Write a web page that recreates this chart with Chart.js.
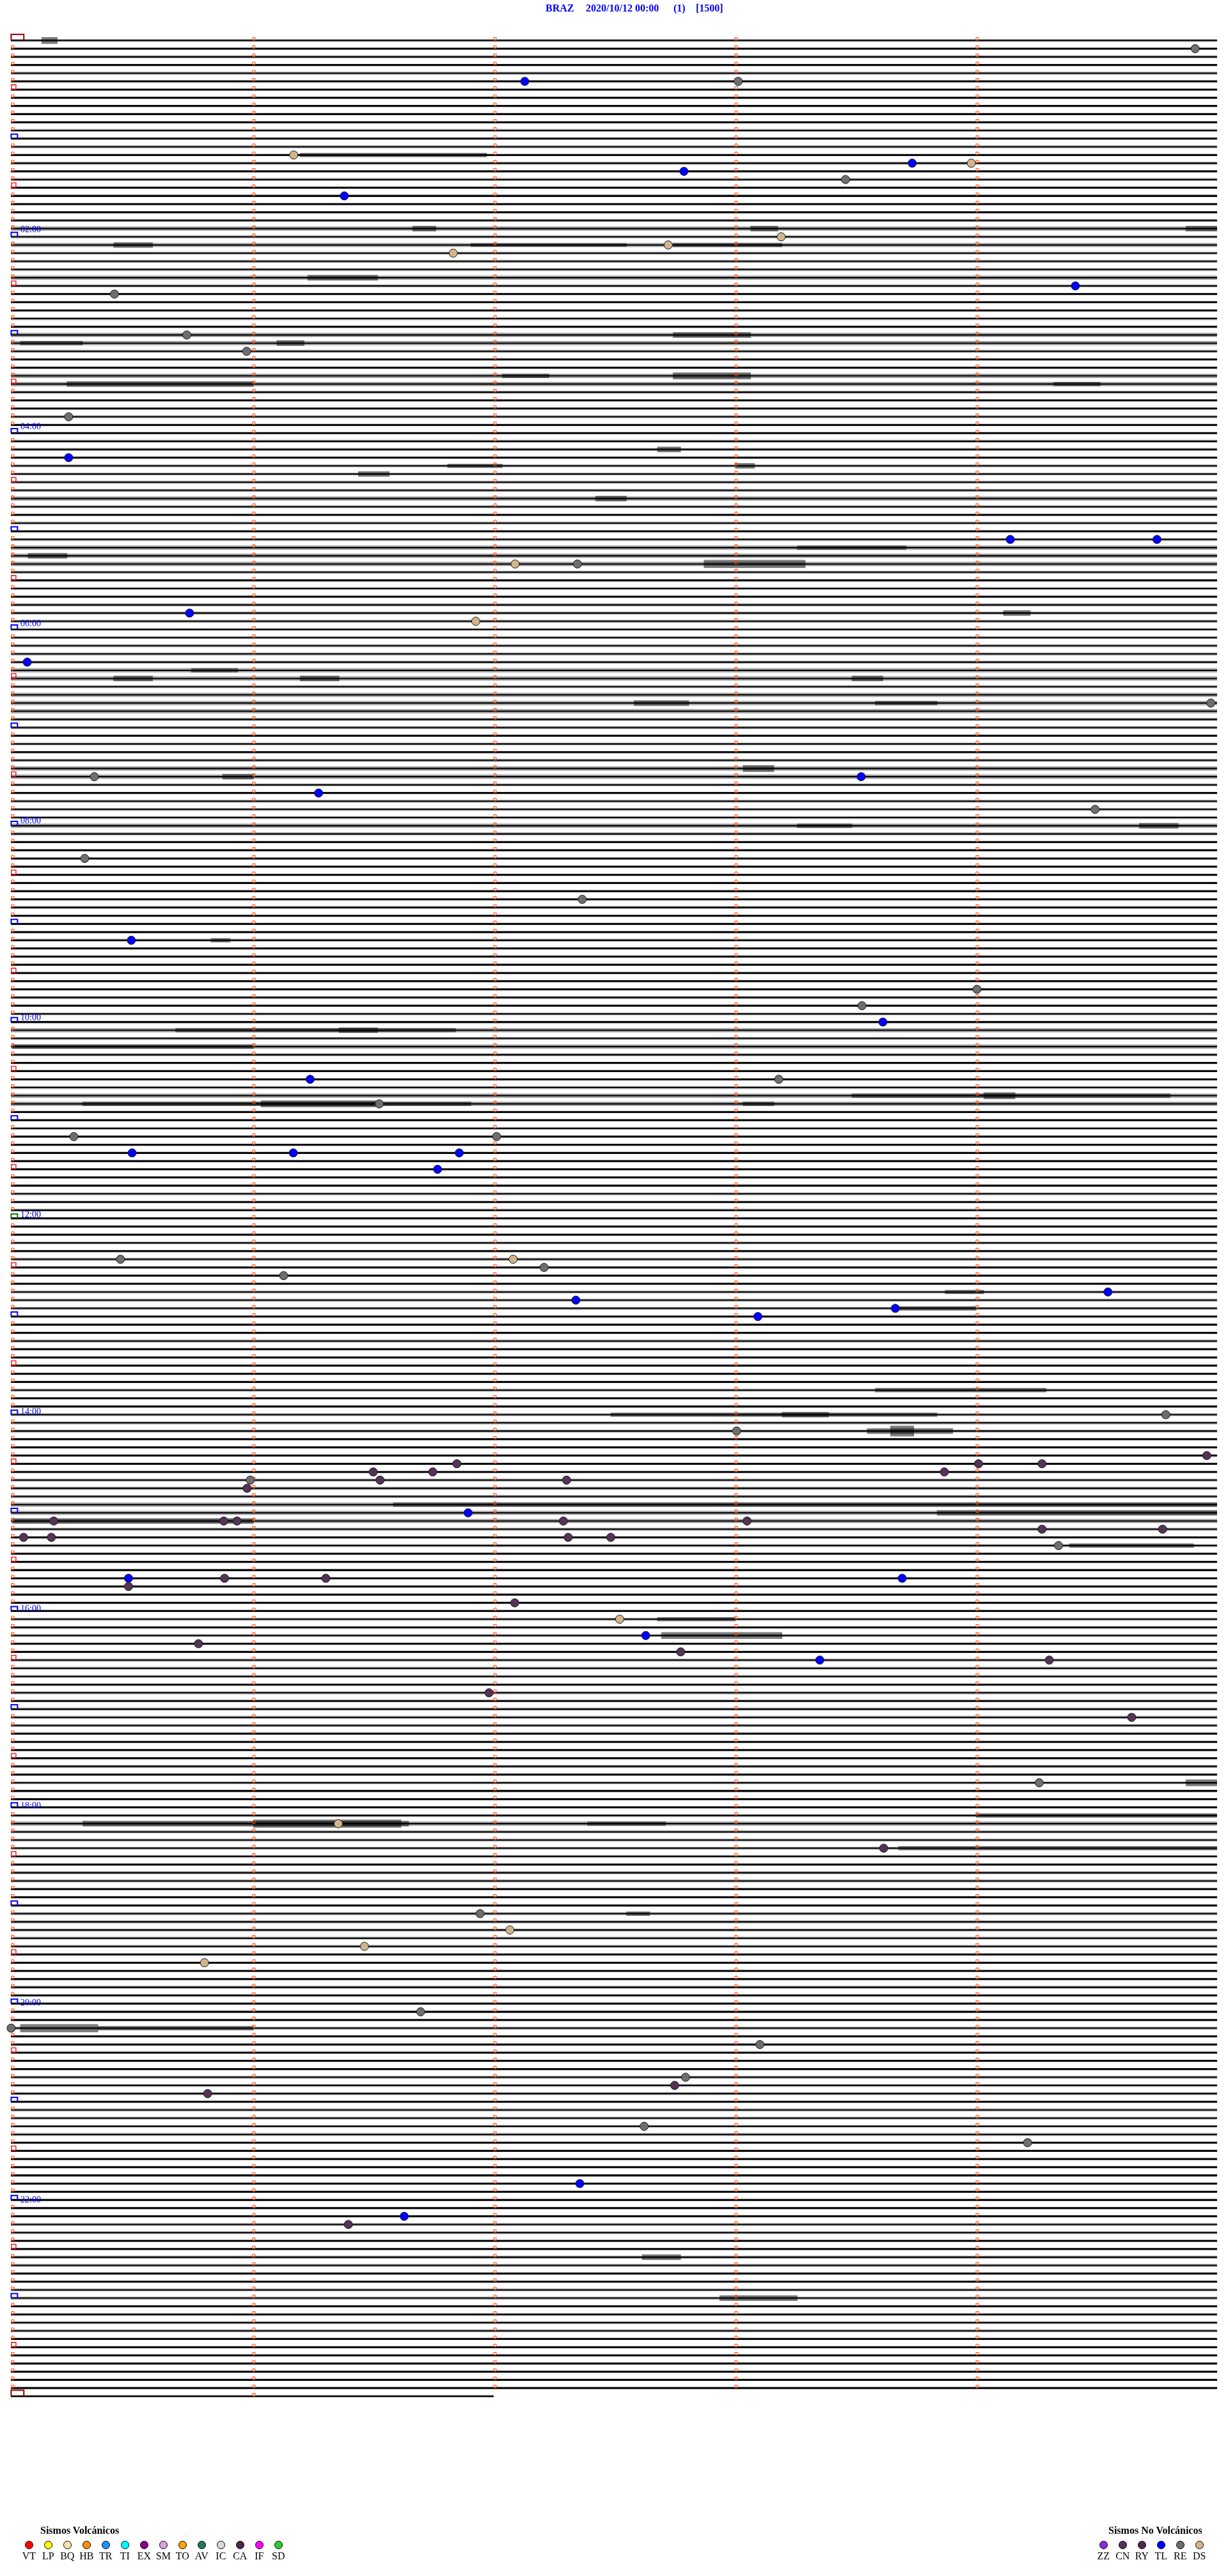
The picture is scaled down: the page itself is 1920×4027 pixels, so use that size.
<!DOCTYPE html>
<html>
<head>
<meta charset="utf-8">
<script src="https://cdn.jsdelivr.net/npm/chart.js@4.4.1/dist/chart.umd.min.js"></script>
<style>
  html, body { margin: 0; padding: 0; background: #fff; }
  #wrap { position: relative; width: 1920px; height: 4027px; overflow: hidden; background: #fff; }
  #heli { position: absolute; left: 0; top: 0; }
  .t { position: absolute; white-space: pre; font-family: "Liberation Serif", "Times New Roman", serif; line-height: 1; }
  .title { color: #0000ff; font-weight: bold; font-size: 16px; }
  .hour { color: #0000ff; font-size: 14px; }
  .lgTitle { color: #000; font-weight: bold; font-size: 16px; }
  .lgLab { color: #000; font-size: 16px; }
  .dot { position: absolute; width: 13px; height: 13px; border-radius: 50%; border: 1px solid #000; box-sizing: border-box; }
</style>
</head>
<body>
<div id="wrap">
  <canvas id="heli" width="1920" height="4027"></canvas>
</div>
<script>
// Helicorder BRAZ 2020/10/12 — 5 minutes per line, 289 lines (last one only 2 min)
var ROWS = 289;
var ROW_SECONDS = 300;
var LAST_ROW_SECONDS = 120;
var minuteTicks = [0, 60, 120, 180, 240];
var hourLabels = ['02:00', '04:00', '06:00', '08:00', '10:00', '12:00',
                  '14:00', '16:00', '18:00', '20:00', '22:00'];

// background noise level of every line (1 quiet .. 3 noisy), one string per hour
var rowNoise = [
  '212121111112', '121212111123', '232223211121', '332113321121',
  '122122223212', '123332121222', '222223323332', '212123321222',
  '321111111111', '112111111212', '132321112331', '121111111212',
  '111212111222', '111211111211', '222111112223', '332121111111',
  '121211222121', '222111121211', '123222212211', '122222111121',
  '111211111222', '122221111111', '111221122112', '212221111111',
  '2'
];

// signal bursts: [line, start s, end s, half amplitude px]
var bursts = [
  [0, 7.6, 11.5, 5], [14, 71.9, 118.3, 3],
  [23, 99.9, 105.7, 4], [23, 184.0, 190.8, 4], [23, 292.3, 300, 4],
  [25, 25.5, 35.2, 4], [25, 114.4, 153.1, 2.5], [25, 164.7, 191.8, 3],
  [29, 73.8, 91.2, 4], [36, 164.7, 184.0, 4],
  [37, 2.3, 17.8, 3], [37, 66.1, 72.9, 4],
  [41, 122.2, 133.8, 3], [41, 164.7, 184.0, 5],
  [42, 13.9, 60.3, 4], [42, 259.4, 271.0, 3],
  [50, 160.8, 166.6, 4], [52, 108.6, 122.2, 3], [52, 180.2, 185.0, 4],
  [53, 86.4, 94.1, 4], [56, 145.4, 153.1, 4], [62, 195.6, 222.7, 3],
  [63, 4.2, 13.9, 4], [64, 172.4, 197.6, 6], [70, 246.9, 253.6, 4],
  [77, 44.8, 56.4, 3], [78, 25.5, 35.2, 4], [78, 71.9, 81.6, 4], [78, 209.2, 216.9, 4],
  [81, 155.0, 168.6, 4], [81, 215.0, 230.4, 3], [89, 182.1, 189.8, 5],
  [90, 52.6, 60.3, 4], [96, 195.6, 209.2, 3], [96, 280.7, 290.4, 4],
  [110, 49.7, 54.5, 3], [121, 40.9, 110.6, 3], [121, 81.6, 91.2, 4],
  [123, 0.4, 60.3, 3], [129, 209.2, 288.4, 3], [129, 242.0, 249.8, 5],
  [130, 17.8, 114.4, 3], [130, 62.2, 91.2, 5], [130, 182.1, 189.8, 3],
  [153, 232.4, 242.0, 3], [155, 220.8, 240.1, 3], [165, 215.0, 257.5, 3],
  [168, 149.2, 230.4, 3], [168, 191.8, 203.4, 4],
  [170, 213.0, 234.3, 4], [170, 218.8, 224.6, 8],
  [179, 95.1, 300, 3], [180, 230.4, 300, 4], [181, 0.4, 60.3, 4],
  [184, 263.3, 294.2, 3], [193, 160.8, 180.2, 3], [195, 161.8, 191.8, 5],
  [213, 292.3, 300, 5], [217, 240.1, 300, 3],
  [218, 17.8, 98.9, 4], [218, 60.3, 97.0, 6], [218, 143.4, 162.8, 3],
  [221, 220.8, 300, 3], [229, 153.1, 158.9, 3],
  [243, 2.3, 21.6, 6], [243, 21.6, 60.3, 3],
  [271, 157.0, 166.6, 4], [276, 176.3, 195.6, 4]
];

// classified events: [line, second, type]
var events = [
  [1, 294.6, 'RE'], [5, 127.8, 'TL'], [5, 180.9, 'RE'], [14, 70.3, 'DS'], [15, 224.2, 'TL'],
  [15, 238.9, 'DS'], [16, 167.4, 'TL'], [17, 207.6, 'RE'], [19, 82.9, 'TL'], [24, 191.6, 'DS'],
  [25, 163.5, 'DS'], [26, 110.0, 'DS'], [30, 264.8, 'TL'], [31, 25.7, 'RE'], [36, 43.7, 'RE'],
  [38, 58.6, 'RE'],
  [46, 14.3, 'RE'], [51, 14.3, 'TL'], [61, 248.6, 'TL'], [61, 285.1, 'TL'], [64, 125.4, 'DS'],
  [64, 140.9, 'RE'], [70, 44.4, 'TL'], [71, 115.6, 'DS'],
  [76, 4.0, 'TL'], [81, 298.5, 'RE'], [90, 20.7, 'RE'], [90, 211.5, 'TL'], [92, 76.5, 'TL'],
  [94, 269.7, 'RE'], [100, 18.3, 'RE'], [105, 142.1, 'RE'], [110, 29.9, 'TL'], [116, 240.3, 'RE'],
  [118, 211.7, 'RE'], [120, 216.9, 'TL'], [127, 74.4, 'TL'], [127, 191.0, 'RE'], [130, 91.6, 'RE'],
  [134, 15.6, 'RE'], [134, 120.8, 'RE'], [136, 30.1, 'TL'], [136, 70.2, 'TL'], [136, 111.5, 'TL'],
  [138, 106.1, 'TL'],
  [149, 27.2, 'RE'], [149, 124.9, 'DS'], [150, 132.6, 'RE'], [151, 67.8, 'RE'], [153, 272.9, 'TL'],
  [154, 140.5, 'TL'], [155, 220.0, 'TL'], [156, 185.8, 'TL'], [168, 287.3, 'RE'], [170, 180.5, 'RE'],
  [173, 297.5, 'CN'], [174, 110.9, 'CN'], [174, 240.7, 'CN'], [174, 256.5, 'CN'], [175, 90.1, 'CN'],
  [175, 104.9, 'CN'], [175, 232.2, 'CN'], [176, 59.5, 'RE'], [176, 91.8, 'CN'], [176, 138.2, 'CN'],
  [177, 58.7, 'CN'], [180, 113.7, 'TL'], [181, 10.6, 'CN'], [181, 52.9, 'CN'], [181, 56.2, 'CN'],
  [181, 137.4, 'CN'], [181, 183.1, 'CN'], [182, 256.5, 'CN'], [182, 286.5, 'CN'], [183, 3.1, 'CN'],
  [183, 10.0, 'CN'], [183, 138.6, 'CN'], [183, 149.2, 'CN'], [184, 260.6, 'RE'], [188, 29.2, 'TL'],
  [188, 53.1, 'CN'], [188, 78.3, 'CN'], [188, 221.7, 'TL'], [189, 29.2, 'CN'], [191, 125.3, 'CN'],
  [193, 151.4, 'DS'], [195, 157.9, 'TL'], [196, 46.6, 'CN'], [197, 166.6, 'CN'], [198, 201.2, 'TL'],
  [198, 258.3, 'CN'], [202, 118.9, 'CN'], [205, 278.8, 'CN'], [213, 255.8, 'RE'], [218, 81.4, 'DS'],
  [221, 217.1, 'CN'],
  [229, 116.7, 'RE'], [231, 124.1, 'DS'], [233, 87.9, 'DS'], [235, 48.1, 'DS'], [241, 101.9, 'RE'],
  [243, 0.0, 'RE'], [245, 186.3, 'RE'], [249, 167.8, 'RE'], [250, 165.1, 'CN'], [251, 48.9, 'CN'],
  [255, 157.5, 'RE'], [257, 252.9, 'RE'], [262, 141.5, 'TL'], [266, 97.8, 'TL'], [267, 83.9, 'CN']
];

var volcCodes  = ['VT', 'LP', 'BQ', 'HB', 'TR', 'TI', 'EX', 'SM', 'TO', 'AV', 'IC', 'CA', 'IF', 'SD'];
var volcColors = ['#ff0000', '#ffff00', '#eee8aa', '#ff8c00', '#1e90ff', '#00ffff', '#8b008b',
                  '#dda0dd', '#ffa500', '#1f7a5a', '#d8d8d8', '#4b2848', '#ff00ff', '#32cd32'];
var otherCodes  = ['ZZ', 'CN', 'RY', 'TL', 'RE', 'DS'];
var otherColors = ['#8a2be2', '#553355', '#4f2a4f', '#0000ff', '#6e6e6e', '#d2b48c'];

// ---- page geometry ----
var W = 1920, H = 4027;
var TOP = 56, PITCH = 12.835;          // y of first line, line spacing
var X0 = 10, PX_PER_SEC = 380 / 60;    // x of second 0, 1 minute = 380 px
function sx(px) { return px / PX_PER_SEC; }
function ry(px) { return px / PITCH; }
function rowDur(r) { return r === ROWS - 1 ? LAST_ROW_SECONDS : ROW_SECONDS; }

var typeColor = {};
otherCodes.forEach(function (c, i) { typeColor[c] = otherColors[i]; });

// noise bands grouped by level
var levelStyle = {
  1: { thick: 2.6, color: 'rgba(0,0,0,0.85)' },
  2: { thick: 4,   color: 'rgba(0,0,0,0.32)' },
  3: { thick: 6,   color: 'rgba(0,0,0,0.36)' }
};
var bandData = { 1: [], 2: [], 3: [] };
var baseData = [];
var noise = rowNoise.join('');
for (var r = 0; r < ROWS; r++) {
  var lv = +noise.charAt(r) || 1;
  bandData[lv].push({ y: r, x: [0, rowDur(r)] });
  baseData.push({ y: r, x: [0, rowDur(r)] });
}

var datasets = [];
[1, 2, 3].forEach(function (lv) {
  datasets.push({
    type: 'bar', indexAxis: 'y', data: bandData[lv], grouped: false,
    barThickness: levelStyle[lv].thick, backgroundColor: levelStyle[lv].color,
    borderWidth: 0, order: 6
  });
});
datasets.push({
  type: 'bar', indexAxis: 'y', data: baseData, grouped: false,
  barThickness: 1.4, backgroundColor: '#000', borderWidth: 0, order: 5
});

// bursts grouped by amplitude
var ampGroups = {};
bursts.forEach(function (b) {
  (ampGroups[b[3]] = ampGroups[b[3]] || []).push({ y: b[0], x: [b[1], b[2]] });
});
Object.keys(ampGroups).forEach(function (a) {
  datasets.push({
    type: 'bar', indexAxis: 'y', data: ampGroups[a], grouped: false,
    barThickness: 2 * a, backgroundColor: 'rgba(0,0,0,0.5)', borderWidth: 0, order: 4
  });
});

// line start / minute markers
var smallSq = [], bigSq = [];
var brackets = { blue: [], green: [], red: [] };
for (var r2 = 0; r2 < ROWS; r2++) {
  minuteTicks.forEach(function (m) {
    if (m >= rowDur(r2)) return;
    if (m === 0 && r2 % 12 === 0) {
      var key = (r2 === 0 || r2 === ROWS - 1) ? 'red' : (r2 === 144 ? 'green' : 'blue');
      var w = key === 'red' ? 20 : 10, h = key === 'red' ? 9.5 : 7;
      brackets[key].push({ x: 0, y: r2 }, { x: 0, y: r2 - ry(h) },
                         { x: sx(w), y: r2 - ry(h) }, { x: sx(w), y: r2 }, { x: 0, y: null });
    } else if (m === 0 && r2 % 6 === 0) {
      bigSq.push({ x: sx(4), y: r2 - ry(4) });
    } else {
      smallSq.push({ x: m + sx(2.5), y: r2 - ry(2.5) });
    }
  });
}
datasets.push({
  type: 'scatter', data: smallSq, pointStyle: 'rect', pointRadius: 2.9,
  pointBorderColor: '#ff4500', pointBackgroundColor: 'rgba(0,0,0,0)', pointBorderWidth: 1, order: 3
});
datasets.push({
  type: 'scatter', data: bigSq, pointStyle: 'rect', pointRadius: 5,
  pointBorderColor: '#ff0000', pointBackgroundColor: 'rgba(0,0,0,0)', pointBorderWidth: 1.3, order: 3
});
[['blue', '#0000ff'], ['green', '#008000'], ['red', '#8b0000']].forEach(function (p) {
  datasets.push({
    type: 'line', data: brackets[p[0]], borderColor: p[1], borderWidth: 2,
    pointRadius: 0, spanGaps: false, fill: false, tension: 0, order: 2
  });
});

// event circles
datasets.push({
  type: 'scatter',
  data: events.map(function (e) { return { x: e[1], y: e[0] }; }),
  pointStyle: 'circle', pointRadius: 6.5, pointBorderWidth: 1, pointBorderColor: '#1a1a1a',
  pointBackgroundColor: events.map(function (e) { return typeColor[e[2]]; }),
  order: 0
});

new Chart(document.getElementById('heli'), {
  type: 'line',
  data: { datasets: datasets },
  options: {
    responsive: false, animation: false, events: [],
    layout: { padding: 0 },
    plugins: { legend: { display: false }, tooltip: { enabled: false }, title: { display: false } },
    elements: { point: { hitRadius: 0 } },
    clip: false,
    scales: {
      x: { type: 'linear', display: false, offset: false, min: -sx(X0), max: sx(W - X0) },
      y: { type: 'linear', display: false, offset: false, reverse: true,
           min: -ry(TOP), max: ry(H - TOP) }
    }
  }
});

// ---- text: title, hour labels, legends ----
var wrap = document.getElementById('wrap');
function txt(cls, s, left, top) {
  var d = document.createElement('div');
  d.className = 't ' + cls; d.textContent = s;
  d.style.left = left + 'px'; d.style.top = top + 'px';
  wrap.appendChild(d);
  return d;
}
txt('title', 'BRAZ', 853, 5);
txt('title', '2020/10/12 00:00', 916, 5);
txt('title', '(1)', 1053, 5);
txt('title', '[1500]', 1088, 5);

hourLabels.forEach(function (s, i) {
  var lineY = TOP + (i + 1) * 24 * PITCH;
  txt('hour', s, 32, lineY - 12);
});

function dot(cx, cy, color) {
  var d = document.createElement('div');
  d.className = 'dot';
  d.style.left = (cx - 6.5) + 'px'; d.style.top = (cy - 6.5) + 'px';
  d.style.background = color;
  wrap.appendChild(d);
}
function legendRow(codes, colors, x0) {
  codes.forEach(function (c, i) {
    var cx = x0 + i * 30;
    dot(cx, 3978, colors[i]);
    var l = txt('lgLab', c, cx - 20, 3988);
    l.style.width = '40px'; l.style.textAlign = 'center';
  });
}
txt('lgTitle', 'Sismos Volcánicos', 63, 3948);
legendRow(volcCodes, volcColors, 45.3);
txt('lgTitle', 'Sismos No Volcánicos', 1733, 3948);
legendRow(otherCodes, otherColors, 1725.3);
</script>
</body>
</html>
